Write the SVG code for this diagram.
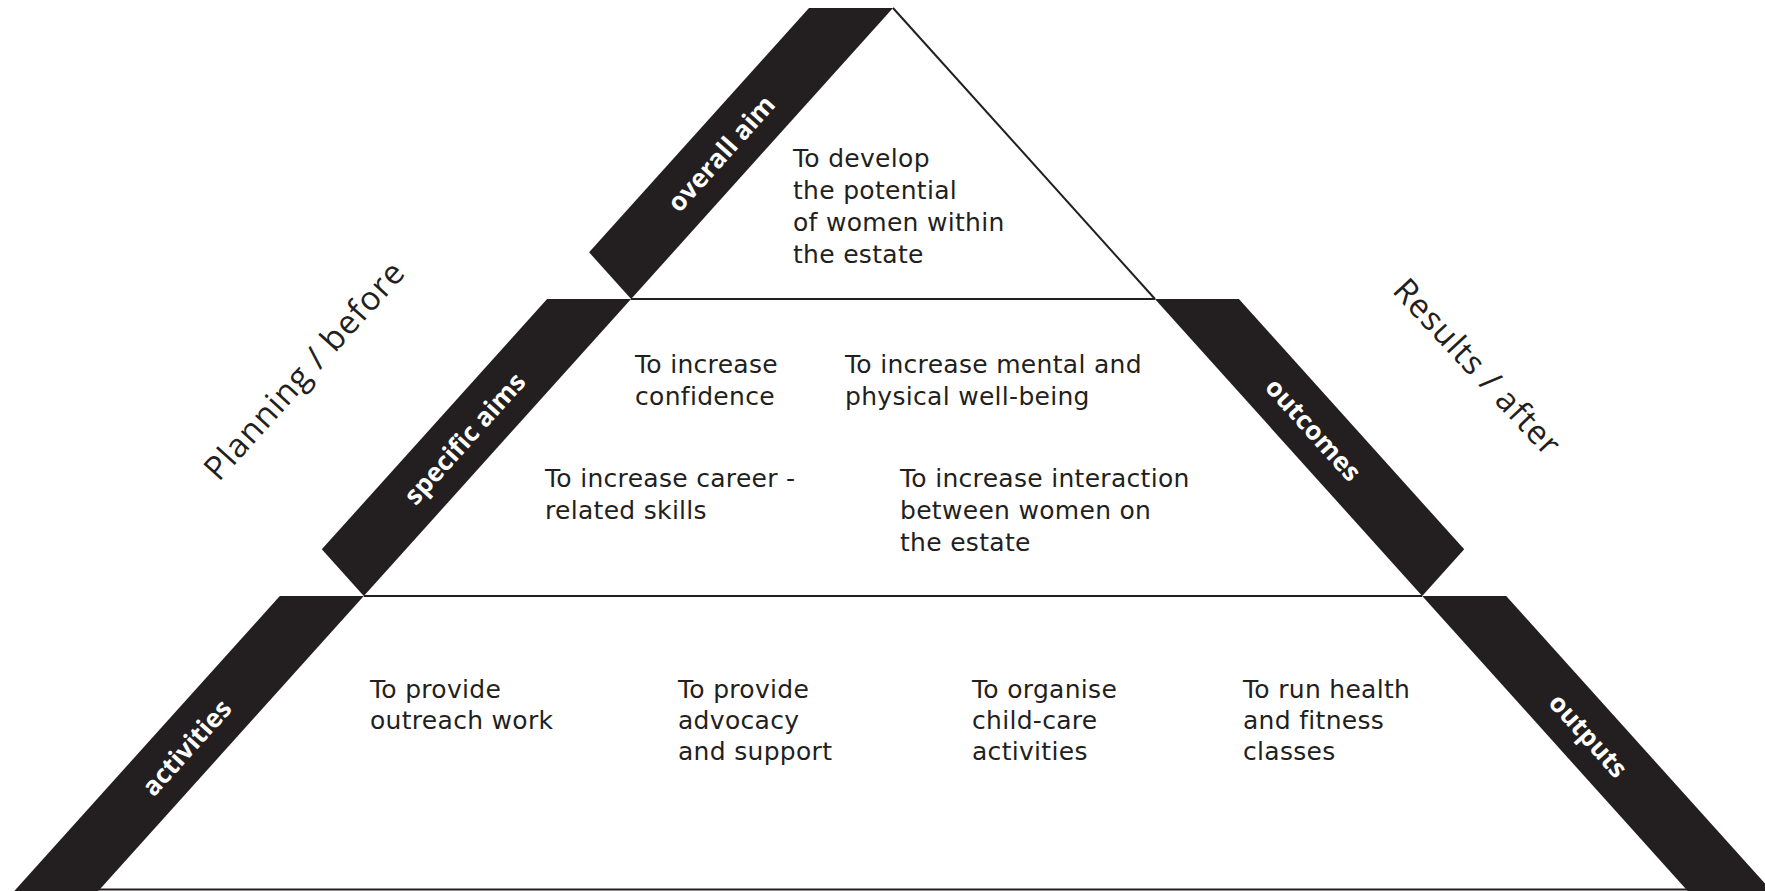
<svg xmlns="http://www.w3.org/2000/svg" width="1765" height="891" viewBox="0 0 1765 891">
<style>
.band{fill:#231f20;}
.lbl{font-family:"Open Sans","Noto Sans","Liberation Sans",sans-serif;font-weight:bold;font-size:26px;fill:#ffffff;text-anchor:middle;dominant-baseline:central;}
.txt{font-family:"DejaVu Sans","Open Sans","Liberation Sans",sans-serif;font-size:25px;fill:#231f20;letter-spacing:0.3px;}
.side{font-family:"Open Sans","Noto Sans","Liberation Sans",sans-serif;font-size:33px;fill:#231f20;letter-spacing:1px;text-anchor:middle;}
.edge{stroke:#231f20;stroke-width:2;fill:none;}
</style>
<rect width="1765" height="891" fill="#ffffff"/>
<g id="connectors">
<line class="edge" x1="893" y1="8" x2="1155" y2="299"/>
<line class="edge" x1="631" y1="299" x2="1155" y2="299" stroke-width="2.5"/>
<line class="edge" x1="364" y1="596" x2="1422" y2="596" stroke-width="2.5"/>
<line class="edge" x1="99" y1="889.5" x2="1688" y2="889.5"/>
</g>
<g id="overall-aim">
<polygon class="band" points="809,8 893,8 631.1,299 589.1,252.3"/>
<text class="lbl" x="720.5" y="153" transform="rotate(-48 720.5 153)">overall aim</text>
</g>
<g id="specific-aims">
<polygon class="band" points="547.1,299 631.1,299 363.8,596 321.8,549.3"/>
<text class="lbl" x="464" y="438" transform="rotate(-48 464 438)">specific aims</text>
</g>
<g id="activities">
<polygon class="band" points="279.8,596 363.8,596 98.3,891 14.3,891"/>
<text class="lbl" x="186" y="747" transform="rotate(-48 186 747)">activities</text>
</g>
<g id="outcomes">
<polygon class="band" points="1154.9,299 1238.9,299 1464.2,549.3 1422.2,596"/>
<text class="lbl" x="1314" y="429" transform="rotate(48 1314 429)">outcomes</text>
</g>
<g id="outputs">
<polygon class="band" points="1422.2,596 1506.2,596 1771.7,891 1687.7,891"/>
<text class="lbl" x="1589" y="735" transform="rotate(48 1589 735)">outputs</text>
</g>
<g id="planning-before">
<text class="side" x="313" y="378" transform="rotate(-48 313 378)">Planning / before</text>
</g>
<g id="results-after">
<text class="side" x="1469" y="375" transform="rotate(47 1469 375)">Results / after</text>
</g>
<g id="aim-text">
<text class="txt" x="793" y="167"><tspan x="793">To develop</tspan><tspan x="793" dy="32">the potential</tspan><tspan x="793" dy="32">of women within</tspan><tspan x="793" dy="32">the estate</tspan></text>
</g>
<g id="aim-confidence">
<text class="txt" x="635" y="373"><tspan x="635">To increase</tspan><tspan x="635" dy="32">confidence</tspan></text>
</g>
<g id="aim-wellbeing">
<text class="txt" x="845" y="373"><tspan x="845">To increase mental and</tspan><tspan x="845" dy="32">physical well-being</tspan></text>
</g>
<g id="aim-career">
<text class="txt" x="545" y="487"><tspan x="545">To increase career -</tspan><tspan x="545" dy="32">related skills</tspan></text>
</g>
<g id="aim-interaction">
<text class="txt" x="900" y="487"><tspan x="900">To increase interaction</tspan><tspan x="900" dy="32">between women on</tspan><tspan x="900" dy="32">the estate</tspan></text>
</g>
<g id="act-outreach">
<text class="txt" x="370" y="698"><tspan x="370">To provide</tspan><tspan x="370" dy="31">outreach work</tspan></text>
</g>
<g id="act-advocacy">
<text class="txt" x="678" y="698"><tspan x="678">To provide</tspan><tspan x="678" dy="31">advocacy</tspan><tspan x="678" dy="31">and support</tspan></text>
</g>
<g id="act-childcare">
<text class="txt" x="972" y="698"><tspan x="972">To organise</tspan><tspan x="972" dy="31">child-care</tspan><tspan x="972" dy="31">activities</tspan></text>
</g>
<g id="act-health">
<text class="txt" x="1243" y="698"><tspan x="1243">To run health</tspan><tspan x="1243" dy="31">and fitness</tspan><tspan x="1243" dy="31">classes</tspan></text>
</g>
</svg>
